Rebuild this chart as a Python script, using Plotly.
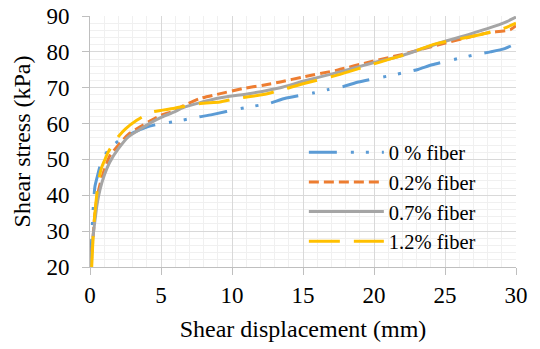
import plotly.graph_objects as go

# ---- data ----
x_0 = [0.05, 0.1, 0.18, 0.25, 0.35, 0.5, 0.7, 1.0, 1.57, 2.46, 3.17, 4.2, 5.4, 6.45, 7.6, 8.6, 10.6,
       11.6, 12.7, 13.7, 15.7, 16.8, 17.9, 18.9, 20.9, 22.0, 23.1, 24.1, 26.1, 27.1, 28.2, 29.2, 30.0]
y_0 = [20, 26, 33, 38, 42.5, 45, 48, 51, 53.8, 56.4, 57.7, 59.3, 60.2, 60.9, 61.8, 62.5, 64.2,
       64.9, 65.7, 67.0, 68.5, 69.5, 70.4, 71.6, 73.2, 74.1, 75.1, 76.4, 78.3, 79.2, 80.0, 80.9, 82.3]

x_02 = [0.08, 0.15, 0.25, 0.35, 0.5, 0.7, 1.0, 1.4, 2.0, 2.7, 3.5, 4.35, 5.0, 5.9, 6.6, 7.75, 8.9,
        10.8, 12.2, 13.4, 15.0, 17.4, 19.7, 22.0, 24.4, 26.8, 28.0, 29.6, 30.0]
y_02 = [20, 25, 30, 35, 39.5, 43, 47, 51, 54, 57, 59, 61, 62.3, 63.5, 65, 67, 68.1,
        69.8, 70.7, 71.6, 73.0, 74.9, 77.2, 79.3, 81.8, 84.2, 85.3, 86.2, 87.3]

x_07 = [0.05, 0.1, 0.2, 0.35, 0.5, 0.7, 1.0, 1.4, 2.0, 2.7, 3.6, 4.35, 5.05, 5.9, 6.6, 8.9, 11.3,
        13.4, 15.0, 17.4, 19.7, 22.0, 24.4, 26.8, 29.1, 30.0]
y_07 = [20, 22, 28, 33, 37.5, 41.5, 45.5, 49.3, 53, 56.3, 58.6, 60.4, 61.8, 63.2, 64.5, 67, 68.4,
        70.0, 71.8, 74.2, 76.7, 79.0, 82.2, 85.0, 88.0, 89.7]

x_12 = [0.12, 0.2, 0.3, 0.47, 0.6, 0.8, 1.0, 1.29, 1.88, 2.5, 3.29, 4.35, 5.87, 7.75, 9.15, 10.3,
        12.2, 13.4, 15.0, 17.4, 19.7, 22.0, 24.4, 26.8, 29.1, 30.0]
y_12 = [20, 27, 33, 40, 44, 47.5, 49.5, 52.1, 55.8, 58.5, 60.9, 63.2, 64.2, 65.6, 66.0, 67.0,
        68.1, 69.3, 71.1, 73.5, 76.3, 79.0, 82.3, 84.2, 86.5, 88.0]

names = ["0 % fiber", "0.2% fiber", "0.7% fiber", "1.2% fiber"]
x_ticks = [0, 5, 10, 15, 20, 25, 30]
y_ticks = [20, 30, 40, 50, 60, 70, 80, 90]

FONT = "Liberation Serif"

fig = go.Figure()
series = [
    (x_0, y_0, names[0], "#5B9BD5", "28px,14px,3px,12px,3px,13px"),
    (x_02, y_02, names[1], "#ED7D31", "10px,5px"),
    (x_07, y_07, names[2], "#A5A5A5", "solid"),
    (x_12, y_12, names[3], "#FFC000", "31px,14px"),
]
for xs, ys, nm, col, dash in series:
    fig.add_trace(go.Scatter(x=xs, y=ys, name=nm, mode="lines",
                             line=dict(color=col, width=3, dash=dash, shape="spline", smoothing=0.6)))

fig.update_layout(
    width=540, height=349,
    margin=dict(l=90, r=24, t=16, b=82),
    paper_bgcolor="white", plot_bgcolor="white",
    font=dict(family=FONT, size=23, color="black"),
    showlegend=True,
    legend=dict(x=0.502, y=0.536, xanchor="left", yanchor="top",
                bgcolor="rgba(0,0,0,0)", font=dict(size=20.5, family=FONT, color="black"),
                itemwidth=75, tracegroupgap=0),
)
fig.update_xaxes(
    range=[0, 30], tickvals=x_ticks, ticktext=[str(v) for v in x_ticks],
    showgrid=True, gridcolor="#D9D9D9", gridwidth=1,
    minor=dict(dtick=1, showgrid=True, gridcolor="#F0F0F0", gridwidth=1),
    showline=True, linecolor="#BFBFBF", linewidth=1, mirror=False,
    ticks="outside", ticklen=7, tickcolor="#BFBFBF",
    zeroline=False, automargin=False, ticklabeloverflow="allow",
    title=dict(text="Shear displacement (mm)", font=dict(size=24, family=FONT, color="black"), standoff=13),
    tickfont=dict(size=23, family=FONT, color="black"),
)
fig.update_yaxes(
    range=[20, 90], tickvals=y_ticks, ticktext=[str(v) for v in y_ticks],
    showgrid=True, gridcolor="#D9D9D9", gridwidth=1,
    minor=dict(dtick=2, showgrid=True, gridcolor="#F0F0F0", gridwidth=1),
    showline=True, linecolor="#BFBFBF", linewidth=1,
    ticks="outside", ticklen=7, tickcolor="#BFBFBF", ticklabelstandoff=8,
    zeroline=False, automargin=False, ticklabeloverflow="allow",
    title=dict(text="Shear stress (kPa)", font=dict(size=24, family=FONT, color="black"), standoff=9),
    tickfont=dict(size=23, family=FONT, color="black"),
)

fig.write_html("out.html", config={"displayModeBar": False},
               post_script="document.body.style.margin='0';document.body.style.overflow='hidden';")
